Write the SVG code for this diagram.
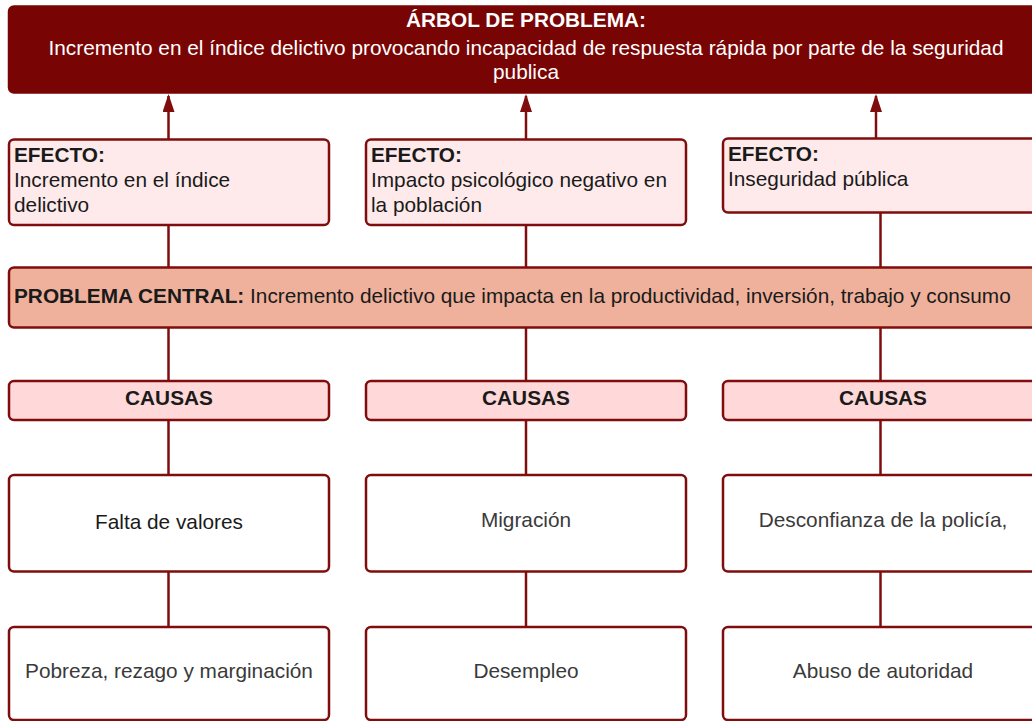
<svg xmlns="http://www.w3.org/2000/svg" width="1032" height="721" viewBox="0 0 1032 721">
<defs>
<style>
text{font-family:"Liberation Sans",Arial,sans-serif;font-size:20.8px}
.b{font-weight:bold}
.box{stroke:#800d0d;stroke-width:2.5}
.top{fill:#790404;stroke:#790404}
.eff{fill:#feeaea}
.cen{fill:#efb19b}
.cau{fill:#ffd8d9}
.cb{fill:#ffffff}
.w{fill:#ffffff}
.d{fill:#1a1a1a}
.g{fill:#3a3a3a}
.ln{stroke:#800d0d;stroke-width:2.5;fill:none}
.ah{fill:#800d0d}
</style>
<marker id="arr" viewBox="0 0 18 12" refX="16" refY="6" markerWidth="18" markerHeight="12" markerUnits="userSpaceOnUse" orient="auto">
<path d="M0,0 L18,6 L0,12 Z" class="ah"/>
</marker>
</defs>
<g id="connectors">
<line class="ln" x1="168.5" y1="139" x2="168.5" y2="96" marker-end="url(#arr)"/>
<line class="ln" x1="526" y1="139" x2="526" y2="96" marker-end="url(#arr)"/>
<line class="ln" x1="876" y1="138" x2="876" y2="96" marker-end="url(#arr)"/>
<line class="ln" x1="168.5" y1="225" x2="168.5" y2="268"/>
<line class="ln" x1="526" y1="225" x2="526" y2="268"/>
<line class="ln" x1="880.5" y1="213" x2="880.5" y2="268"/>
<line class="ln" x1="168.5" y1="327" x2="168.5" y2="381"/>
<line class="ln" x1="526" y1="327" x2="526" y2="381"/>
<line class="ln" x1="880.5" y1="327" x2="880.5" y2="381"/>
<line class="ln" x1="168.5" y1="420" x2="168.5" y2="475"/>
<line class="ln" x1="526" y1="420" x2="526" y2="475"/>
<line class="ln" x1="880.5" y1="420" x2="880.5" y2="475"/>
<line class="ln" x1="168.5" y1="572" x2="168.5" y2="627"/>
<line class="ln" x1="526" y1="572" x2="526" y2="627"/>
<line class="ln" x1="880.5" y1="572" x2="880.5" y2="627"/>
</g>
<g id="top">
<rect class="box top" x="9" y="6.5" width="1040" height="86" rx="5"/>
<text class="b w" x="526" y="27" text-anchor="middle">ÁRBOL DE PROBLEMA:</text>
<text class="w" x="526" y="55" text-anchor="middle">Incremento en el índice delictivo provocando incapacidad de respuesta rápida por parte de la seguridad</text>
<text class="w" x="526" y="79" text-anchor="middle">publica</text>
</g>
<g id="efecto1">
<rect class="box eff" x="9" y="139.5" width="320" height="85.5" rx="5"/>
<text class="b d" x="14" y="162">EFECTO:</text>
<text class="d" x="14" y="187">Incremento en el índice</text>
<text class="d" x="14" y="211.5">delictivo</text>
</g>
<g id="efecto2">
<rect class="box eff" x="366" y="139.5" width="320" height="85.5" rx="5"/>
<text class="b d" x="371" y="162">EFECTO:</text>
<text class="d" x="371" y="187">Impacto psicológico negativo en</text>
<text class="d" x="371" y="211.5">la población</text>
</g>
<g id="efecto3">
<rect class="box eff" x="723" y="138.5" width="330" height="74" rx="5"/>
<text class="b d" x="728" y="161">EFECTO:</text>
<text class="d" x="728" y="186">Inseguridad pública</text>
</g>
<g id="central">
<rect class="box cen" x="9" y="267.5" width="1040" height="60" rx="5"/>
<text class="d" x="14" y="302.5"><tspan class="b">PROBLEMA CENTRAL:</tspan> Incremento delictivo que impacta en la productividad, inversión, trabajo y consumo</text>
</g>
<g id="causas1">
<rect class="box cau" x="9" y="381" width="320" height="39" rx="5"/>
<text class="b d" x="169" y="405" text-anchor="middle">CAUSAS</text>
</g>
<g id="causas2">
<rect class="box cau" x="366" y="381" width="320" height="39" rx="5"/>
<text class="b d" x="526" y="405" text-anchor="middle">CAUSAS</text>
</g>
<g id="causas3">
<rect class="box cau" x="723" y="381" width="330" height="39" rx="5"/>
<text class="b d" x="883" y="405" text-anchor="middle">CAUSAS</text>
</g>
<g id="causa1a">
<rect class="box cb" x="9" y="475" width="320" height="96.5" rx="5"/>
<text class="d" x="169" y="529" text-anchor="middle">Falta de valores</text>
</g>
<g id="causa2a">
<rect class="box cb" x="366" y="475" width="320" height="96.5" rx="5"/>
<text class="g" x="526" y="527" text-anchor="middle">Migración</text>
</g>
<g id="causa3a">
<rect class="box cb" x="723" y="475" width="330" height="96.5" rx="5"/>
<text class="g" x="883" y="527" text-anchor="middle">Desconfianza de la policía,</text>
</g>
<g id="causa1b">
<rect class="box cb" x="9" y="627" width="320" height="93" rx="5"/>
<text class="g" x="169" y="678" text-anchor="middle">Pobreza, rezago y marginación</text>
</g>
<g id="causa2b">
<rect class="box cb" x="366" y="627" width="320" height="93" rx="5"/>
<text class="g" x="526" y="678" text-anchor="middle">Desempleo</text>
</g>
<g id="causa3b">
<rect class="box cb" x="723" y="627" width="330" height="93" rx="5"/>
<text class="g" x="883" y="678" text-anchor="middle">Abuso de autoridad</text>
</g>
</svg>
